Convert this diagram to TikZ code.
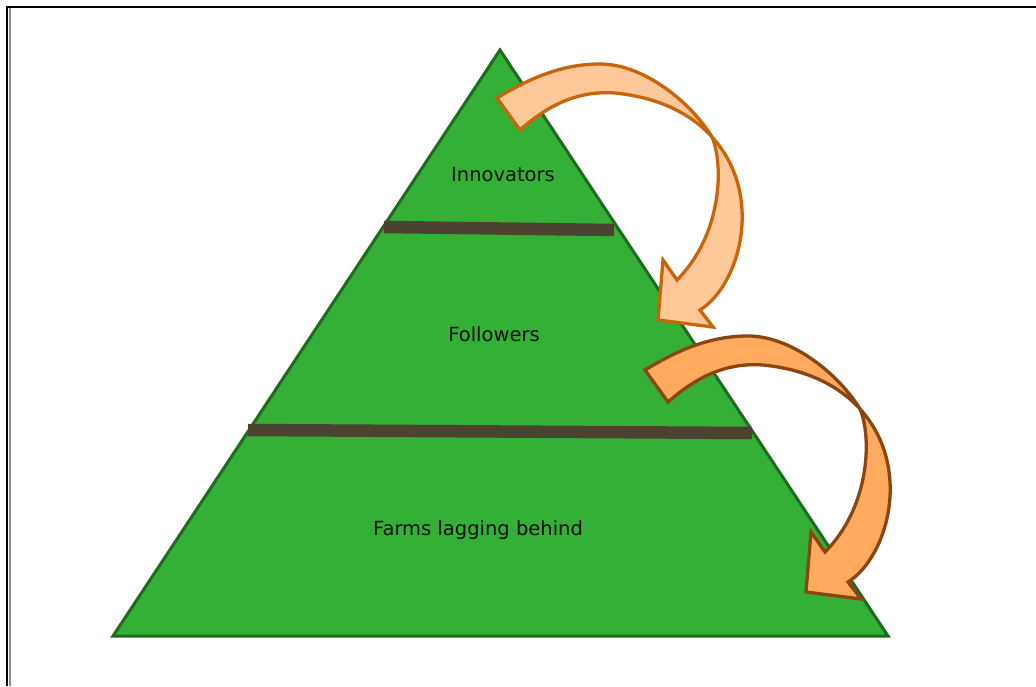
\documentclass[tikz,border=0pt]{standalone}
\usepackage{fontspec}
\setmainfont{DejaVu Sans}
\definecolor{pyrfill}{HTML}{33B035}
\definecolor{pyrline}{HTML}{1E6B1E}
\definecolor{divider}{HTML}{4B4330}
\definecolor{arrowAfill}{HTML}{FFC899}
\definecolor{arrowAline}{HTML}{C8640A}
\definecolor{arrowBfill}{HTML}{FFAA5F}
\definecolor{arrowBline}{HTML}{8B4510}
\tikzset{
  layerlabel/.style={font=\fontsize{19.5}{22}\selectfont, text=black!95, inner sep=0pt},
  dividerbar/.style={draw=divider, line width=12.5pt, line cap=butt},
  pyramid/.style={fill=pyrfill, draw=pyrline, line width=3pt, line join=miter},
  twistarrow/.pic={
    % ribbon of a curved block arrow whose two edges cross once
    \path[pic actions, line width=3.3pt, line join=miter]
      (497,98) .. controls (530,78) and (562,64) .. (600,64)
      .. controls (645,64) and (692,104) .. (712,137)
      .. controls (724,165) and (722,235) .. (677,280)
      -- (663,260) -- (658,320) -- (713,327) -- (700,310)
      .. controls (740,285) and (765,195) .. (712,137)
      .. controls (695,118) and (665,98) .. (615,93)
      .. controls (575,90) and (545,108) .. (520,130)
      -- cycle;
  }
}
\begin{document}
\begin{tikzpicture}[x=1pt, y=-1pt]
  \useasboundingbox (0,0) rectangle (1036,686);
  % page frame
  \draw[black, line width=2pt] (6,6.5) -- (1036,6.5);
  \draw[black, line width=2pt] (7,5.5) -- (7,686);
  \draw[black!45, line width=2.5pt] (10,7.5) -- (10,686);

  % pyramid
  \coordinate (apex) at (500,50);
  \coordinate (bl) at (113,636);
  \coordinate (br) at (888,636);
  \path[pyramid] (apex) -- (br) -- (bl) -- cycle;

  % layer dividers
  \coordinate (d1l) at (384,227);
  \coordinate (d1r) at (614,230);
  \coordinate (d2l) at (248,430);
  \coordinate (d2r) at (752,433);
  \draw[dividerbar] (d1l) -- (d1r);
  \draw[dividerbar] (d2l) -- (d2r);

  % layer labels
  \node[layerlabel] (innov) at (503,175) {Innovators};
  \node[layerlabel] (follow) at (494,334) {Followers};
  \node[layerlabel] (lag) at (478,530) {Farms lagging behind};

  % flow arrows between layers
  \pic[fill=arrowAfill, draw=arrowAline] at (0,0) {twistarrow};
  \pic[fill=arrowBfill, draw=arrowBline] at (148,272) {twistarrow};
\end{tikzpicture}
\end{document}
